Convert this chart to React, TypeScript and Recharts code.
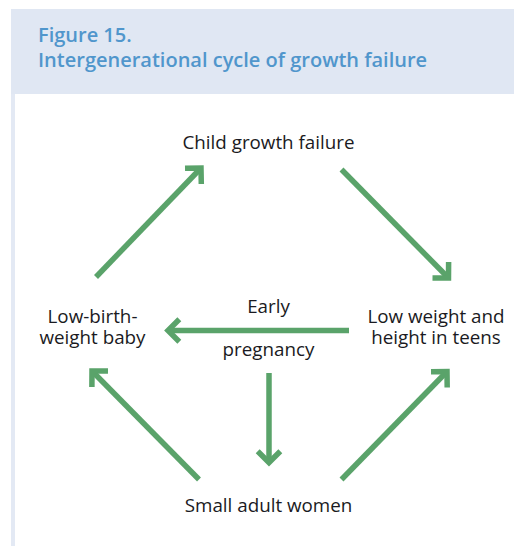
import React from "react";
import { ComposedChart, XAxis, YAxis, Scatter, ReferenceLine } from "recharts";

// Diagram nodes (label lines, centre x, first-line baseline y) in a 514 x 546 diagram space
const nodeLabels: string[][] = [
  ["Child growth failure"],
  ["Low weight and", "height in teens"],
  ["Small adult women"],
  ["Low-birth-", "weight baby"],
  ["Early"],
  ["pregnancy"],
];
const nodeX = [268.5, 436, 268.5, 92.5, 268.5, 268.5];
const nodeY = [149, 322.5, 511.5, 322.5, 313, 356];

// Arrows: tail -> head
const arrowStartX = [96, 341.5, 349, 269, 199, 341.5];
const arrowStartY = [277, 169.5, 330.5, 373, 479.5, 479.5];
const arrowEndX = [201, 448.5, 168, 269, 92, 447];
const arrowEndY = [168, 278, 330.5, 462.5, 371, 371.5];

const GREEN = "#5aa36a";
const TEXT = "#1a1a22";
const FONT = "'Open Sans', sans-serif";
const LINE_H = 21.5;

const nodes = nodeLabels.map((lines, i) => ({ x: nodeX[i], y: nodeY[i], lines }));
const arrows = arrowStartX.map((sx, i) => ({
  sx,
  sy: arrowStartY[i],
  ex: arrowEndX[i],
  ey: arrowEndY[i],
}));

const ArrowShape = (props: any) => {
  const { x1, y1, x2, y2 } = props;
  const ang = Math.atan2(y2 - y1, x2 - x1);
  const L = 16;
  const a1 = ang + Math.PI - Math.PI / 4;
  const a2 = ang + Math.PI + Math.PI / 4;
  const p1x = x2 + L * Math.cos(a1);
  const p1y = y2 + L * Math.sin(a1);
  const p2x = x2 + L * Math.cos(a2);
  const p2y = y2 + L * Math.sin(a2);
  return (
    <g>
      <line x1={x1} y1={y1} x2={x2} y2={y2} stroke={GREEN} strokeWidth={5.5} strokeLinecap="butt" />
      <polyline
        points={`${p1x},${p1y} ${x2},${y2} ${p2x},${p2y}`}
        fill="none"
        stroke={GREEN}
        strokeWidth={5.5}
        strokeLinejoin="miter"
        strokeLinecap="butt"
      />
    </g>
  );
};

const NodeShape = (props: any) => {
  const { cx, cy, payload } = props;
  return (
    <text x={cx} y={cy} textAnchor="middle" fill={TEXT} fontFamily={FONT} fontSize={18.8}>
      {payload.lines.map((l: string, i: number) => (
        <tspan key={i} x={cx} y={cy + i * LINE_H}>
          {l}
        </tspan>
      ))}
    </text>
  );
};

export default function App() {
  return (
    <div style={{ position: "fixed", left: 0, top: 0, width: 514, height: 546, background: "#fff", overflow: "hidden" }}>
      <div style={{ position: "absolute", left: 11, top: 9, width: 503, height: 85, background: "#e0e7f3" }} />
      <div style={{ position: "absolute", left: 11, top: 94, width: 4, height: 452, background: "#e3e9f4" }} />
      <div
        style={{
          position: "absolute",
          left: 38,
          top: 23,
          color: "#5096cc",
          fontFamily: FONT,
          fontWeight: 600,
          fontSize: 20,
          lineHeight: "24.5px",
          whiteSpace: "nowrap",
        }}
      >
        <div>Figure 15.</div>
        <div>Intergenerational cycle of growth failure</div>
      </div>
      <div style={{ position: "absolute", left: 0, top: 0 }}>
        <ComposedChart width={514} height={546} margin={{ top: 0, right: 0, bottom: 0, left: 0 }} data={nodes}>
          <XAxis type="number" dataKey="x" domain={[0, 514]} hide />
          <YAxis type="number" dataKey="y" domain={[0, 546]} reversed hide />
          {arrows.map((a, i) => (
            <ReferenceLine
              key={i}
              segment={[
                { x: a.sx, y: a.sy },
                { x: a.ex, y: a.ey },
              ]}
              shape={ArrowShape}
              ifOverflow="visible"
            />
          ))}
          <Scatter data={nodes} dataKey="y" shape={NodeShape} isAnimationActive={false} />
        </ComposedChart>
      </div>
    </div>
  );
}
